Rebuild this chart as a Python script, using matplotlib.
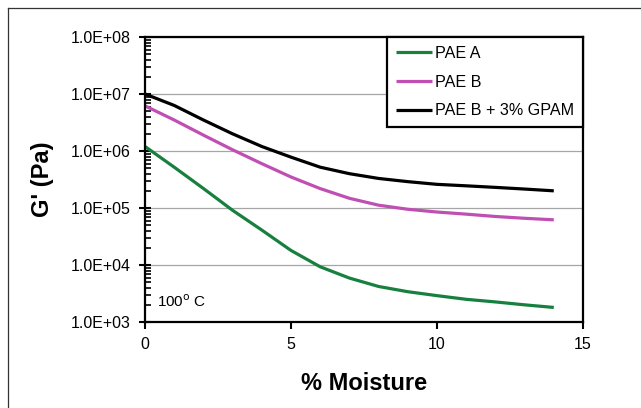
import numpy as np
import matplotlib
matplotlib.use("Agg")
import matplotlib.pyplot as plt
from matplotlib.ticker import FixedLocator, LogLocator, FuncFormatter, NullFormatter
from matplotlib.lines import Line2D

plt.rcParams['font.family'] = ['Liberation Sans', 'DejaVu Sans']

# % moisture and storage modulus G' (Pa) at 100 C
moisture = [0, 1, 2, 3, 4, 5, 6, 7, 8, 9, 10, 11, 12, 13, 14]
pae_a = [1.2e6, 5.2e5, 2.2e5, 9.1e4, 4.1e4, 1.8e4, 9.3e3, 5.9e3,
         4.2e3, 3.4e3, 2.9e3, 2.5e3, 2.25e3, 2.0e3, 1.8e3]
pae_b = [6.2e6, 3.5e6, 1.9e6, 1.05e6, 6.0e5, 3.5e5, 2.19e5, 1.48e5,
         1.12e5, 9.5e4, 8.5e4, 7.8e4, 7.1e4, 6.6e4, 6.2e4]
pae_b_gpam = [1.0e7, 6.3e6, 3.5e6, 2.0e6, 1.2e6, 7.8e5, 5.2e5, 4.0e5,
              3.3e5, 2.9e5, 2.6e5, 2.45e5, 2.3e5, 2.15e5, 2.0e5]

series_labels = ["PAE A", "PAE B", "PAE B + 3% GPAM"]
series_colors = ["#17803f", "#c04fb4", "#000000"]

fig = plt.figure(figsize=(6.41, 4.08), dpi=100)
ax = fig.add_axes([145 / 641, 1 - 322 / 408, (583 - 145) / 641, (322 - 37) / 408])

for ys, lab, col in zip([pae_a, pae_b, pae_b_gpam], series_labels, series_colors):
    ax.plot(moisture, ys, color=col, lw=2.3, label=lab, solid_capstyle='butt')

ax.set_yscale('log')
ax.set_ylim(1e3, 1e8)
ax.set_xlim(0, 15)
ax.xaxis.set_major_locator(FixedLocator([0, 5, 10, 15]))
ax.yaxis.set_major_locator(LogLocator(base=10, numticks=10))
ax.yaxis.set_minor_locator(LogLocator(base=10, subs=np.arange(2, 10), numticks=10))
ax.yaxis.set_minor_formatter(NullFormatter())


def sci_fmt(v, pos):
    e = int(round(np.log10(v)))
    return "1.0E+%02d" % e


ax.yaxis.set_major_formatter(FuncFormatter(sci_fmt))

ax.grid(axis='y', which='major', color='#a6a6a6', lw=0.9)
ax.set_axisbelow(True)

for s in ax.spines.values():
    s.set_linewidth(1.6)
    s.set_color('black')

ax.tick_params(axis='y', which='major', direction='inout', length=8, width=1.5,
               labelsize=11.5, pad=6)
ax.tick_params(axis='y', which='minor', direction='in', length=4, width=1.2)
ax.tick_params(axis='x', which='major', direction='out', length=5, width=1.5,
               labelsize=11.5, pad=6)

ax.set_xlabel("% Moisture", fontsize=17, fontweight='bold', labelpad=14)
ax.set_ylabel("G' (Pa)", fontsize=17, fontweight='bold', labelpad=12)

ax.text(0.028, 0.07, "100$^\\mathrm{o}$ C", transform=ax.transAxes,
        fontsize=11, ha='left', va='center')

leg = ax.legend(loc='upper right', borderaxespad=0, fancybox=False,
                fontsize=11.6, handlelength=2.2, handletextpad=0.2,
                labelspacing=0.85, borderpad=0.55, framealpha=1)
leg.get_frame().set_edgecolor('black')
leg.get_frame().set_linewidth(1.6)

# thin border along the top and left of the figure
fig.add_artist(Line2D([8 / 641, 1], [1 - 8 / 408, 1 - 8 / 408],
                      transform=fig.transFigure, color='#333333', lw=0.9))
fig.add_artist(Line2D([8 / 641, 8 / 641], [0, 1 - 8 / 408],
                      transform=fig.transFigure, color='#333333', lw=0.9))

fig.savefig("out.png", dpi=100)
